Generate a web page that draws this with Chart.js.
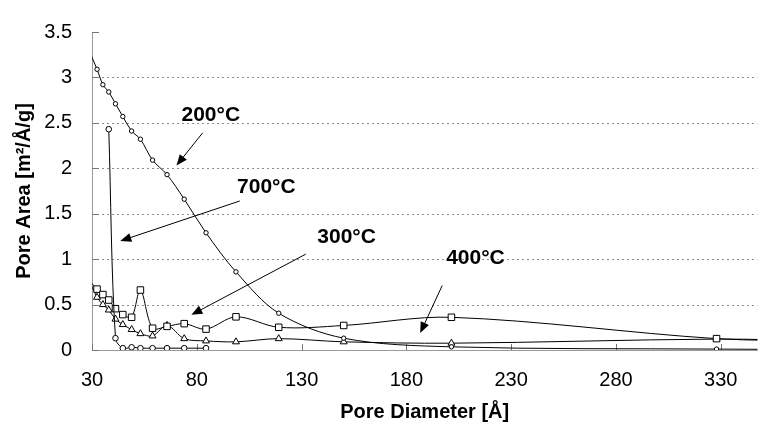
<!DOCTYPE html>
<html>
<head>
<meta charset="utf-8">
<script src="https://cdn.jsdelivr.net/npm/chart.js@4"></script>
<style>
  html, body { margin: 0; padding: 0; background: #fff; }
</style>
</head>
<body>
<canvas id="poreChart" width="763" height="434"></canvas>
<script>
// Pore diameters [Å] shared by all curves (first and last sit just outside the axes)
const diameters = [28, 32.4, 35.2, 38.0, 41.2, 44.7, 48.9, 53.1, 58.9, 65.8, 74.0, 84.4, 98.7, 119.1, 150.1, 201.5, 328.0, 380];

// Pore area [m2/Å/g] per calcination temperature
const area200 = [3.33, 3.09, 2.92, 2.84, 2.71, 2.57, 2.41, 2.32, 2.09, 1.93, 1.66, 1.29, 0.86, 0.405, 0.13, 0.035, 0.01, 0.005];
const area300 = [0.78, 0.67, 0.61, 0.55, 0.455, 0.39, 0.36, 0.66, 0.24, 0.26, 0.29, 0.23, 0.365, 0.25, 0.27, 0.36, 0.125, 0.10];
const area400 = [0.80, 0.58, 0.50, 0.44, 0.34, 0.28, 0.225, 0.18, 0.155, 0.27, 0.125, 0.10, 0.09, 0.125, 0.09, 0.075, 0.12, 0.10];
const area700 = [null, null, null, 2.43, 0.13, 0.02, 0.03, 0.02, 0.02, 0.02, 0.02, 0.02, null, null, null, null, null, null];

const xTicks = [30, 80, 130, 180, 230, 280, 330];
const yTicks = [0, 0.5, 1, 1.5, 2, 2.5, 3, 3.5];
const yGrid = [0.5, 1, 1.5, 2, 2.5, 3];

// Callout labels, placed in data units
const notes = [
  { text: '200°C', at: [72.7, 2.52], tail: [82.8, 2.39], head: [70.3, 2.03] },
  { text: '700°C', at: [99.2, 1.73], tail: [100.5, 1.64], head: [43.5, 1.20] },
  { text: '300°C', at: [137.5, 1.18], tail: [132, 1.055], head: [77.4, 0.387] },
  { text: '400°C', at: [199.0, 0.945], tail: [197.1, 0.709], head: [186.6, 0.186] }
];

const FONT = '"Liberation Sans", Arial, sans-serif';

const series = (values, style, radius) => ({
  data: diameters.map((d, i) => ({ x: d, y: values[i] })),
  borderColor: '#000',
  borderWidth: 1,
  pointStyle: style,
  pointRadius: radius,
  pointBackgroundColor: '#fff',
  pointBorderColor: '#000',
  pointBorderWidth: 1,
  tension: 0.33,
  fill: false
});

// Dotted gridlines, inside tick marks, callout text and arrows
const annotate = {
  id: 'annotate',
  beforeDatasetsDraw(chart) {
    const { ctx, scales: { x, y }, chartArea } = chart;
    ctx.save();
    ctx.strokeStyle = '#8c8c8c';
    ctx.lineWidth = 1;
    ctx.setLineDash([2, 3]);
    ctx.beginPath();
    yGrid.forEach(v => {
      const py = Math.round(y.getPixelForValue(v)) + 0.5;
      ctx.moveTo(chartArea.left, py);
      ctx.lineTo(chartArea.right, py);
    });
    ctx.stroke();
    ctx.setLineDash([]);
    ctx.strokeStyle = '#777';
    ctx.beginPath();
    xTicks.forEach(v => {
      const px = Math.round(x.getPixelForValue(v)) + 0.5;
      ctx.moveTo(px, chartArea.bottom);
      ctx.lineTo(px, chartArea.bottom - 6);
    });
    yTicks.forEach(v => {
      const py = Math.round(y.getPixelForValue(v)) + 0.5;
      ctx.moveTo(chartArea.left, py);
      ctx.lineTo(chartArea.left + 7, py);
    });
    ctx.stroke();
    ctx.restore();
  },
  afterDatasetsDraw(chart) {
    const { ctx, scales: { x, y } } = chart;
    ctx.save();
    ctx.fillStyle = '#000';
    ctx.strokeStyle = '#000';
    ctx.lineWidth = 1;
    ctx.font = 'bold 21px ' + FONT;
    ctx.textBaseline = 'alphabetic';
    notes.forEach(n => {
      ctx.fillText(n.text, x.getPixelForValue(n.at[0]), y.getPixelForValue(n.at[1]));
      const ax = x.getPixelForValue(n.tail[0]), ay = y.getPixelForValue(n.tail[1]);
      const bx = x.getPixelForValue(n.head[0]), by = y.getPixelForValue(n.head[1]);
      const ang = Math.atan2(by - ay, bx - ax);
      const c = Math.cos(ang), s = Math.sin(ang);
      ctx.beginPath();
      ctx.moveTo(ax, ay);
      ctx.lineTo(bx - 8 * c, by - 8 * s);
      ctx.stroke();
      ctx.beginPath();
      ctx.moveTo(bx, by);
      ctx.lineTo(bx - 11 * c + 4.5 * s, by - 11 * s - 4.5 * c);
      ctx.lineTo(bx - 11 * c - 4.5 * s, by - 11 * s + 4.5 * c);
      ctx.closePath();
      ctx.fill();
    });
    ctx.restore();
  }
};

new Chart(document.getElementById('poreChart'), {
  type: 'line',
  data: {
    datasets: [
      series(area200, 'circle', 2.2),
      series(area700, 'circle', 2.8),
      series(area300, 'rect', 4.6),
      series(area400, 'triangle', 4)
    ]
  },
  options: {
    responsive: false,
    animation: false,
    devicePixelRatio: 1,
    layout: { padding: { top: 24, right: 0, bottom: 0, left: 0 } },
    plugins: { legend: { display: false }, tooltip: { enabled: false } },
    scales: {
      x: {
        type: 'linear',
        min: 30,
        max: 347.5,
        afterBuildTicks: axis => { axis.ticks = xTicks.map(v => ({ value: v })); },
        afterFit: axis => { axis.height = 84; },
        grid: { display: false, drawTicks: false },
        border: { color: '#999' },
        ticks: { padding: 18, color: '#000', font: { family: FONT, size: 20 }, maxRotation: 0, callback: v => String(v) },
        title: { display: true, text: 'Pore Diameter [Å]', color: '#000', font: { family: FONT, size: 20, weight: 'bold' }, padding: { top: 0, bottom: 10 } }
      },
      y: {
        min: 0,
        max: 3.5,
        afterBuildTicks: axis => { axis.ticks = yTicks.map(v => ({ value: v })); },
        afterFit: axis => { axis.width = 92; },
        grid: { display: false, drawTicks: false },
        border: { color: '#999' },
        ticks: { padding: 20, color: '#000', font: { family: FONT, size: 20 }, callback: v => String(v) },
        title: { display: true, text: 'Pore Area [m²/Å/g]', color: '#000', font: { family: FONT, size: 20, weight: 'bold' }, padding: { top: 12, bottom: 0 } }
      }
    }
  },
  plugins: [annotate]
});
</script>
</body>
</html>
